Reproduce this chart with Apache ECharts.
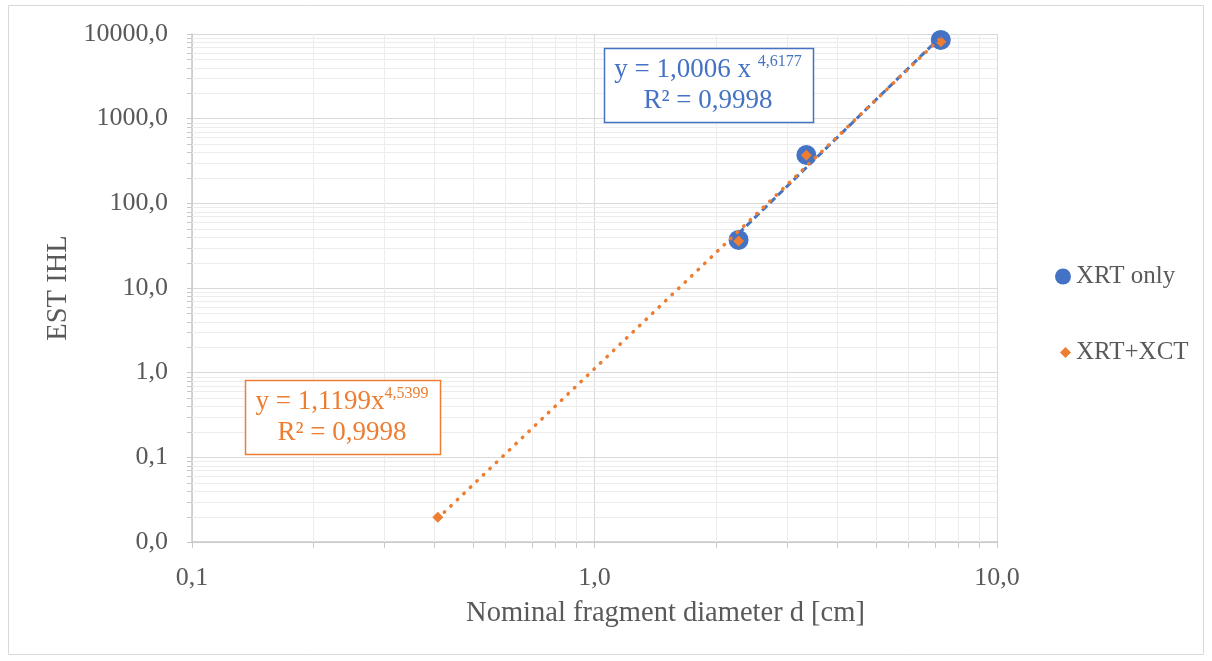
<!DOCTYPE html>
<html>
<head>
<meta charset="utf-8">
<script src="https://cdn.jsdelivr.net/npm/echarts@6/dist/echarts.min.js"></script>
<style>
html,body{margin:0;padding:0;background:#fff;}
#main{width:1212px;height:661px;}
</style>
</head>
<body>
<div id="main"></div>
<script>
// data (log-log)
var xrtOnlyX = [2.28, 3.36, 7.25];
var xrtOnlyY = [37, 372, 8520];
var xrtXctX = [0.408, 2.28, 3.36, 7.25];
var xrtXctY = [0.0196, 36, 370, 8100];
// trendline end points (power fits, straight on log-log)
var blueTrend = [[2.28, 44], [7.25, 9300]];
var orangeTrend = [[0.408, 0.019], [7.25, 9000]];
// axes
var xMin = 0.1, xMax = 10;
var yMin = 0.01, yMax = 10000;
var xMinor = [0.2, 0.3, 0.4, 0.5, 0.6, 0.7, 0.8, 0.9, 2, 3, 4, 5, 6, 7, 8, 9];
var yMinor = [];
[0.01, 0.1, 1, 10, 100, 1000].forEach(function (d) {
  for (var k = 2; k <= 9; k++) yMinor.push(+(d * k).toPrecision(3));
});

var FONT = 'Liberation Serif';
var GREY = '#595959';
var BLUE = '#4472C4';
var ORANGE = '#ED7D31';

function zip(xs, ys) {
  return xs.map(function (x, i) { return [x, ys[i]]; });
}
function fmt(v) {
  return (+v).toFixed(1).replace('.', ',');
}
function px(v) { return Math.round(v) + 0.5; }

// minor grid + minor ticks, drawn through the axes
function minorX(params, api) {
  var v = api.value(0);
  var a = api.coord([v, yMax]);
  var b = api.coord([v, yMin]);
  var x = px(a[0]);
  return {
    type: 'group',
    children: [
      { type: 'line', shape: { x1: x, y1: a[1], x2: x, y2: b[1] }, style: { stroke: '#ececec', lineWidth: 1 } },
      { type: 'line', shape: { x1: x, y1: b[1], x2: x, y2: b[1] + 6 }, style: { stroke: '#c8c8c8', lineWidth: 1 } }
    ]
  };
}
function minorY(params, api) {
  var v = api.value(1);
  var a = api.coord([xMin, v]);
  var b = api.coord([xMax, v]);
  var y = px(a[1]);
  return {
    type: 'group',
    children: [
      { type: 'line', shape: { x1: a[0], y1: y, x2: b[0], y2: y }, style: { stroke: '#ececec', lineWidth: 1 } },
      { type: 'line', shape: { x1: a[0] - 5, y1: y, x2: a[0], y2: y }, style: { stroke: '#c8c8c8', lineWidth: 1 } }
    ]
  };
}

var myChart = echarts.init(document.getElementById('main'));

var option = {
  backgroundColor: '#fff',
  animation: false,
  textStyle: { fontFamily: FONT },
  grid: { left: 192, right: 215, top: 34, bottom: 119, containLabel: false },
  xAxis: {
    type: 'log',
    logBase: 10,
    min: xMin,
    max: xMax,
    name: 'Nominal fragment diameter d [cm]',
    nameLocation: 'middle',
    nameGap: 57,
    nameTextStyle: { fontFamily: FONT, fontSize: 28.5, color: GREY, padding: [0, 0, 0, 142] },
    axisLine: { lineStyle: { color: '#c8c8c8', width: 1.5 } },
    axisTick: { show: true, length: 6, lineStyle: { color: '#c8c8c8' } },
    axisLabel: { fontFamily: FONT, fontSize: 26, color: GREY, margin: 23, formatter: fmt },
    splitLine: { show: true, lineStyle: { color: '#d9d9d9', width: 1 } }
  },
  yAxis: {
    type: 'log',
    logBase: 10,
    min: yMin,
    max: yMax,
    splitNumber: 6,
    name: 'EST IHL',
    nameLocation: 'middle',
    nameGap: 117,
    nameTextStyle: { fontFamily: FONT, fontSize: 28.5, color: GREY },
    axisLine: { show: true, lineStyle: { color: '#c8c8c8', width: 1.5 } },
    axisTick: { show: true, length: 5, lineStyle: { color: '#c8c8c8' } },
    axisLabel: { fontFamily: FONT, fontSize: 26, color: GREY, margin: 24, formatter: fmt },
    splitLine: { show: true, lineStyle: { color: '#d9d9d9', width: 1 } }
  },
  legend: [
    {
      orient: 'vertical',
      left: 1050,
      top: 259,
      itemWidth: 16,
      itemHeight: 16,
      data: [{ name: 'XRT only', icon: 'circle' }],
      textStyle: { fontFamily: FONT, fontSize: 25, color: GREY }
    },
    {
      orient: 'vertical',
      left: 1055,
      top: 335,
      itemWidth: 11,
      itemHeight: 11,
      data: [{ name: 'XRT+XCT', icon: 'diamond' }],
      textStyle: { fontFamily: FONT, fontSize: 25, color: GREY }
    }
  ],
  graphic: [
    { type: 'rect', shape: { x: 8.5, y: 5.5, width: 1195, height: 649 }, style: { fill: null, stroke: '#d9d9d9', lineWidth: 1 }, silent: true, z: 0 },
    { type: 'rect', shape: { x: 604.5, y: 48.5, width: 209, height: 74 }, style: { fill: '#fff', stroke: BLUE, lineWidth: 1.5 }, z: 10 },
    {
      type: 'text', x: 708, y: 85, z: 11,
      style: {
        text: 'y = 1,0006 x {sup|4,6177}\nR² = 0,9998',
        fill: BLUE, font: '27px "' + FONT + '"', align: 'center', verticalAlign: 'middle', lineHeight: 31,
        rich: { sup: { fontSize: 16, fontFamily: FONT, fill: BLUE, verticalAlign: 'top', lineHeight: 31, padding: [0, 0, 8, 0] } }
      }
    },
    { type: 'rect', shape: { x: 245.5, y: 380.5, width: 195, height: 74 }, style: { fill: '#fff', stroke: ORANGE, lineWidth: 1.5 }, z: 10 },
    {
      type: 'text', x: 342, y: 417, z: 11,
      style: {
        text: 'y = 1,1199x{sup|4,5399}\nR² = 0,9998',
        fill: ORANGE, font: '27px "' + FONT + '"', align: 'center', verticalAlign: 'middle', lineHeight: 31,
        rich: { sup: { fontSize: 16, fontFamily: FONT, fill: ORANGE, verticalAlign: 'top', lineHeight: 31, padding: [0, 0, 8, 0] } }
      }
    }
  ],
  series: [
    {
      name: 'minorX', type: 'custom', silent: true, clip: false, z: 1,
      renderItem: minorX,
      data: xMinor.map(function (v) { return [v, yMin]; })
    },
    {
      name: 'minorY', type: 'custom', silent: true, clip: false, z: 1,
      renderItem: minorY,
      data: yMinor.map(function (v) { return [xMin, v]; })
    },
    {
      name: 'XRT only', type: 'scatter', z: 3,
      symbol: 'circle', symbolSize: 20,
      itemStyle: { color: BLUE, opacity: 1 },
      data: zip(xrtOnlyX, xrtOnlyY)
    },
    {
      name: 'XRT+XCT', type: 'scatter', z: 4,
      symbol: 'diamond', symbolSize: 11,
      itemStyle: { color: ORANGE, opacity: 1 },
      data: zip(xrtXctX, xrtXctY)
    },
    {
      name: 'XRT only trend', type: 'line', z: 5, symbol: 'none', silent: true,
      lineStyle: { color: BLUE, width: 3, type: [7, 4] },
      data: blueTrend
    },
    {
      name: 'XRT+XCT trend', type: 'line', z: 6, symbol: 'none', silent: true,
      lineStyle: { color: ORANGE, width: 3.5, type: [0.5, 8.5], cap: 'round' },
      data: orangeTrend
    }
  ]
};

myChart.setOption(option);
</script>
</body>
</html>
